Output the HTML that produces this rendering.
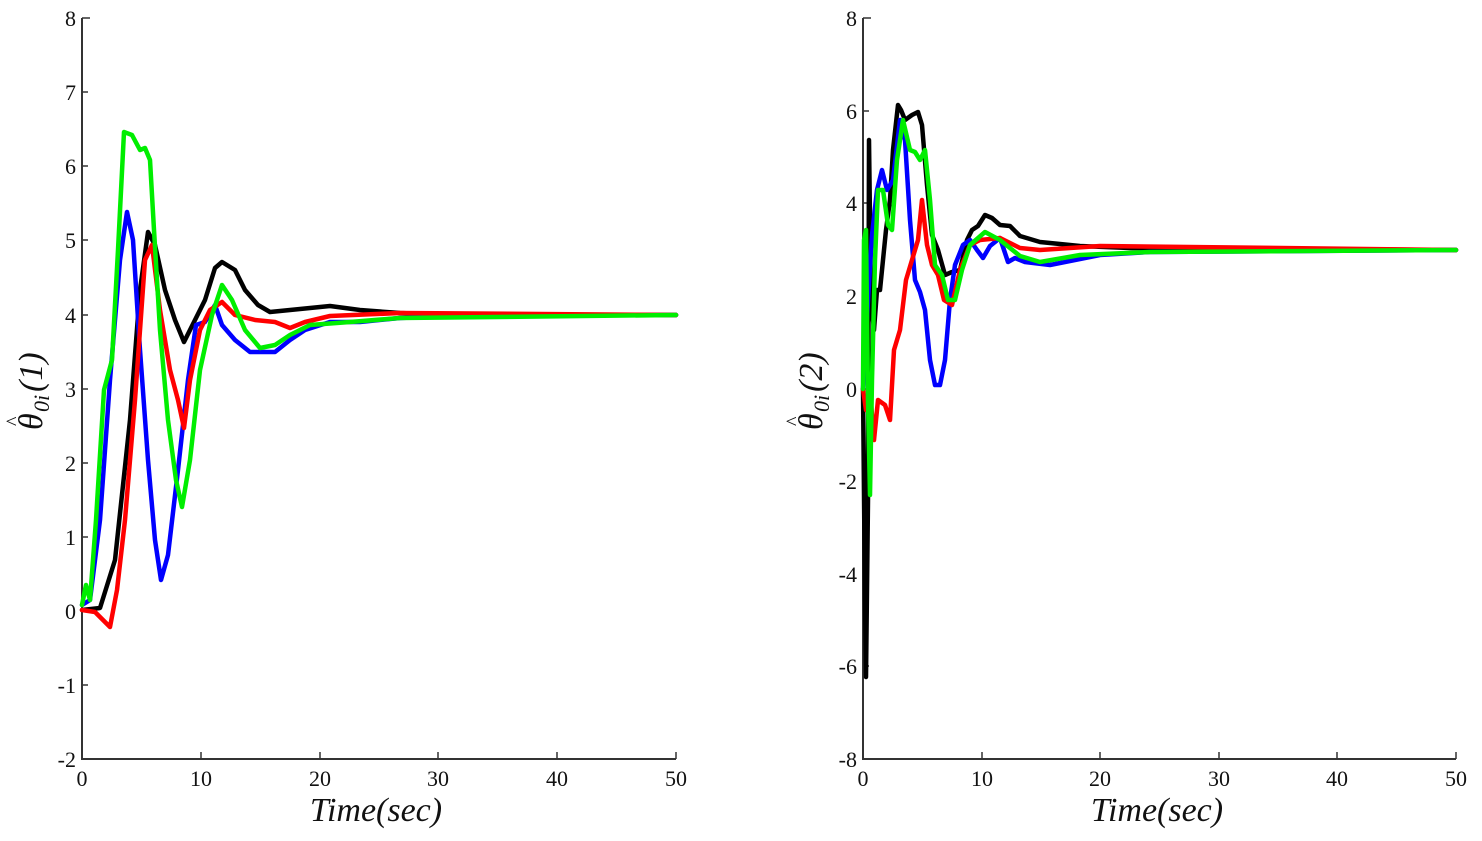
<!DOCTYPE html>
<html><head><meta charset="utf-8"><style>
html,body{margin:0;padding:0;background:#fff;}
svg{display:block;}
</style></head><body>
<svg width="1482" height="841" viewBox="0 0 1482 841" xmlns="http://www.w3.org/2000/svg">
<rect width="1482" height="841" fill="#fff"/>
<g stroke="#333" stroke-width="2" fill="none">
<path d="M82,18 V759 H676"/>
<path d="M863,18 V759 H1456"/>
</g>
<g stroke="#333" stroke-width="1.5">
<path d="M82,18h8M82,92h6M82,166h6M82,240h6M82,315h6M82,389h6M82,463h6M82,537h6M82,611h6M82,685h6M201,759v-7M320,759v-7M438,759v-7M557,759v-7M676,759v-7"/>
<path d="M863,18h8M863,111h6M863,203h6M863,296h6M863,389h6M863,481h6M863,574h6M863,666h6M982,759v-7M1100,759v-7M1219,759v-7M1337,759v-7M1456,759v-7"/>
</g>
<g font-family="'Liberation Serif', serif" font-size="22" fill="#111" text-anchor="end">
<text x="76" y="26">8</text><text x="76" y="100">7</text><text x="76" y="174">6</text><text x="76" y="248">5</text><text x="76" y="323">4</text><text x="76" y="397">3</text><text x="76" y="471">2</text><text x="76" y="545">1</text><text x="76" y="619">0</text><text x="76" y="693">-1</text><text x="76" y="767">-2</text>
<text x="857" y="26">8</text><text x="857" y="119">6</text><text x="857" y="211">4</text><text x="857" y="304">2</text><text x="857" y="397">0</text><text x="857" y="489">-2</text><text x="857" y="582">-4</text><text x="857" y="674">-6</text><text x="857" y="767">-8</text>
</g>
<g font-family="'Liberation Serif', serif" font-size="22" fill="#111" text-anchor="middle">
<text x="82" y="786">0</text><text x="201" y="786">10</text><text x="320" y="786">20</text><text x="438" y="786">30</text><text x="557" y="786">40</text><text x="676" y="786">50</text>
<text x="863" y="786">0</text><text x="982" y="786">10</text><text x="1100" y="786">20</text><text x="1219" y="786">30</text><text x="1337" y="786">40</text><text x="1456" y="786">50</text>
</g>
<g font-family="'Liberation Serif', serif" font-style="italic" font-size="34" fill="#111" text-anchor="middle">
<text x="376" y="821">Time(sec)</text>
<text x="1157" y="821">Time(sec)</text>
</g>
<g font-family="'Liberation Serif', serif" font-style="italic" fill="#111">
<g transform="translate(42,392) rotate(-90)">
<text x="-38" y="0" font-size="34">θ</text><text x="-34" y="-22" font-size="20" font-style="normal">^</text>
<text x="-20" y="7" font-size="22">0i</text><text x="0" y="0" font-size="34">(1)</text>
</g>
<g transform="translate(822,392) rotate(-90)">
<text x="-38" y="0" font-size="34">θ</text><text x="-34" y="-22" font-size="20" font-style="normal">^</text>
<text x="-20" y="7" font-size="22">0i</text><text x="0" y="0" font-size="34">(2)</text>
</g>
</g>
<g fill="none" stroke-width="4.5" stroke-linejoin="round" stroke-linecap="round">
<polyline stroke="#000" points="82,610 100,608 115,560 130,420 140,290 148,232 155,245 165,290 175,320 184,342 195,320 205,300 215,268 222,262 235,270 245,290 258,305 270,312 290,310 330,306 360,310 400,313 450,315 676,315"/>
<polyline stroke="#0000ff" points="82,605 90,600 100,520 110,380 120,260 127,212 133,240 140,350 148,460 155,540 161,580 168,555 178,470 188,380 196,325 205,322 215,305 222,325 235,340 250,352 275,352 290,340 305,330 330,322 360,322 400,318 450,316 676,315"/>
<polyline stroke="#ff0000" points="82,610 95,612 110,627 117,590 125,520 135,400 145,260 152,245 160,310 170,370 178,400 184,428 190,380 200,330 210,310 222,302 235,315 255,320 275,322 290,328 305,322 330,316 400,313 676,315"/>
<polyline stroke="#00ee00" points="82,605 86,585 90,600 96,520 104,390 112,360 118,250 124,132 132,135 140,150 145,148 150,160 154,230 160,330 168,420 176,480 182,507 190,460 200,370 212,315 222,285 232,300 245,330 260,348 275,345 290,335 310,325 350,322 400,318 676,315"/>
<polyline stroke="#000" points="863,389 865,600 866,677 868,500 869,140 871,300 874,330 877,290 880,290 886,230 890,200 893,150 898,105 901,110 905,120 912,115 918,112 922,125 927,185 932,235 938,250 945,275 952,272 960,270 967,240 972,230 978,226 985,215 992,218 1000,225 1010,226 1020,236 1040,242 1080,246 1130,248 1456,250"/>
<polyline stroke="#0000ff" points="863,389 868,300 872,235 877,190 882,170 887,190 893,180 900,120 905,140 910,220 915,280 920,292 925,310 930,360 935,385 940,385 945,360 950,300 955,265 963,245 970,240 977,250 983,258 990,246 1000,238 1008,262 1015,258 1025,262 1050,265 1100,255 1150,252 1456,250"/>
<polyline stroke="#ff0000" points="863,389 866,410 870,390 874,440 878,400 885,405 890,420 894,350 900,330 906,280 912,260 918,240 922,200 927,245 932,265 938,275 944,300 952,305 960,270 970,245 980,240 1000,238 1020,248 1040,250 1100,246 1456,250"/>
<polyline stroke="#00ee00" points="863,389 864,240 866,230 868,400 870,495 872,380 875,260 878,190 883,190 888,225 892,230 897,160 903,120 910,150 915,152 920,160 925,150 930,200 935,265 942,275 948,300 955,300 962,270 970,245 985,232 1000,240 1020,256 1040,262 1080,255 1150,252 1456,250"/>
</g>
</svg>
</body></html>
